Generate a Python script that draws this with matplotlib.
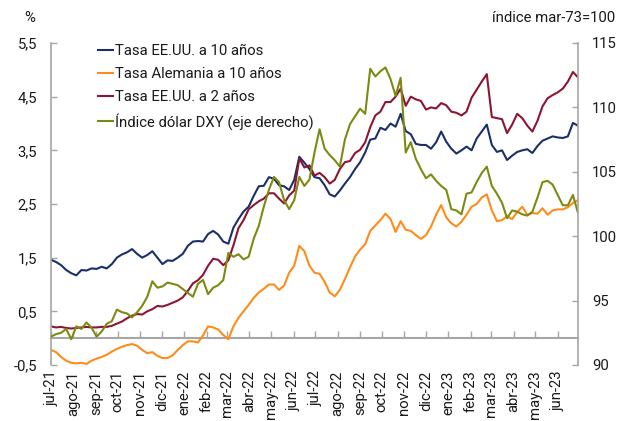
import matplotlib
matplotlib.use('Agg')
import matplotlib.pyplot as plt
import matplotlib.dates as mdates
import pandas as pd

plt.rcParams['font.family'] = ['Roboto', 'DejaVu Sans']

# ---------------- data (weekly readings) ----------------
dates = pd.date_range('2021-07-01', periods=105, freq='7D')

us10 = [1.46, 1.42, 1.36, 1.27, 1.21, 1.17, 1.27, 1.26, 1.30, 1.29,
        1.33, 1.30, 1.38, 1.50, 1.56, 1.60, 1.66, 1.57, 1.50, 1.55,
        1.62, 1.50, 1.38, 1.45, 1.44, 1.50, 1.57, 1.72, 1.80, 1.81,
        1.80, 1.94, 2.00, 1.93, 1.80, 1.76, 2.06, 2.22, 2.36, 2.45,
        2.65, 2.83, 2.84, 3.00, 2.97, 2.85, 2.83, 2.76, 2.95, 3.38,
        3.27, 3.15, 3.00, 2.98, 2.85, 2.68, 2.64, 2.75, 2.88, 3.00,
        3.15, 3.28, 3.46, 3.70, 3.72, 3.92, 3.88, 4.00, 3.94, 4.18,
        3.86, 3.80, 3.62, 3.60, 3.60, 3.53, 3.65, 3.85, 3.66, 3.53,
        3.44, 3.50, 3.57, 3.50, 3.72, 3.85, 3.98, 3.60, 3.47, 3.50,
        3.32, 3.40, 3.47, 3.50, 3.52, 3.45, 3.58, 3.68, 3.72, 3.76,
        3.74, 3.73, 3.76, 4.01, 3.96]

de10 = [-0.22, -0.26, -0.35, -0.42, -0.46, -0.47, -0.46, -0.48, -0.42, -0.38,
        -0.35, -0.31, -0.25, -0.20, -0.16, -0.13, -0.11, -0.14, -0.22, -0.28,
        -0.26, -0.33, -0.37, -0.37, -0.32, -0.22, -0.13, -0.06, -0.06, -0.08,
        0.05, 0.22, 0.20, 0.16, 0.06, -0.02, 0.22, 0.38, 0.50, 0.62,
        0.75, 0.85, 0.92, 1.00, 1.00, 0.90, 0.98, 1.22, 1.35, 1.72,
        1.62, 1.35, 1.22, 1.20, 1.05, 0.85, 0.78, 0.90, 1.10, 1.32,
        1.52, 1.65, 1.75, 2.00, 2.10, 2.20, 2.32, 2.22, 1.98, 2.18,
        2.02, 2.00, 1.92, 1.85, 1.92, 2.08, 2.30, 2.48, 2.25, 2.14,
        2.08, 2.17, 2.30, 2.45, 2.50, 2.62, 2.68, 2.38, 2.18, 2.20,
        2.27, 2.22, 2.35, 2.45, 2.30, 2.33, 2.32, 2.42, 2.30, 2.38,
        2.40, 2.40, 2.44, 2.52, 2.57]

us2 = [0.22, 0.20, 0.21, 0.19, 0.18, 0.19, 0.20, 0.21, 0.20, 0.20,
       0.21, 0.21, 0.23, 0.27, 0.31, 0.37, 0.42, 0.45, 0.44, 0.50,
       0.54, 0.60, 0.59, 0.62, 0.66, 0.70, 0.76, 0.88, 1.02, 1.08,
       1.18, 1.35, 1.48, 1.46, 1.36, 1.45, 1.73, 2.05, 2.20, 2.40,
       2.48, 2.55, 2.60, 2.70, 2.70, 2.60, 2.51, 2.66, 2.75, 3.35,
       3.18, 3.22, 3.03, 3.08, 3.00, 2.88, 2.95, 3.15, 3.28, 3.30,
       3.45, 3.51, 3.65, 3.93, 4.15, 4.22, 4.40, 4.40, 4.50, 4.65,
       4.33, 4.50, 4.45, 4.42, 4.26, 4.30, 4.28, 4.38, 4.34, 4.22,
       4.20, 4.15, 4.22, 4.48, 4.63, 4.78, 4.92, 4.12, 4.10, 4.08,
       3.82, 3.98, 4.18, 4.10, 3.96, 3.85, 4.05, 4.32, 4.47, 4.53,
       4.58, 4.65, 4.78, 4.96, 4.86]

dxy = [92.2, 92.4, 92.5, 92.8, 92.0, 93.0, 92.8, 93.3, 92.9, 92.2,
       92.6, 93.2, 93.4, 94.3, 94.1, 94.0, 93.7, 94.1, 94.6, 95.3,
       96.5, 96.0, 96.1, 96.4, 96.3, 96.2, 95.9, 95.6, 95.3, 96.3,
       96.6, 95.5, 96.0, 96.2, 96.6, 98.7, 98.4, 98.6, 98.2, 98.4,
       99.8, 100.8, 102.3, 103.6, 104.6, 104.2, 102.8, 102.1, 102.8, 104.6,
       103.9, 104.4, 106.5, 108.3, 106.8, 106.3, 105.9, 105.4, 107.5, 108.7,
       109.3, 109.9, 109.5, 113.0, 112.4, 112.8, 113.1, 112.2, 110.9, 112.3,
       106.5, 107.3, 106.0, 105.2, 104.5, 104.8, 104.3, 103.9, 103.6, 102.1,
       102.0, 101.7, 103.3, 103.4, 104.2, 104.9, 105.4, 103.9, 103.3, 102.6,
       101.4, 102.0, 101.9, 101.7, 101.6, 101.9, 103.0, 104.2, 104.3, 104.0,
       103.2, 102.4, 102.4, 103.2, 101.8]

series_names = ['Tasa EE.UU. a 10 años', 'Tasa Alemania a 10 años',
                'Tasa EE.UU. a 2 años', 'Índice dólar DXY (eje derecho)']
colors = ['#1b2f6b', '#ff8c1a', '#8e1532', '#7d8a12']

tick_dates = pd.date_range('2021-07-01', '2023-06-01', freq='MS')
tick_labels = ['jul-21', 'ago-21', 'sep-21', 'oct-21', 'nov-21', 'dic-21',
               'ene-22', 'feb-22', 'mar-22', 'abr-22', 'may-22', 'jun-22',
               'jul-22', 'ago-22', 'sep-22', 'oct-22', 'nov-22', 'dic-22',
               'ene-23', 'feb-23', 'mar-23', 'abr-23', 'may-23', 'jun-23']
left_ticks = [-0.5, 0.5, 1.5, 2.5, 3.5, 4.5, 5.5]
left_labels = ['-0,5', '0,5', '1,5', '2,5', '3,5', '4,5', '5,5']
right_ticks = [90, 95, 100, 105, 110, 115]

# ---------------- figure ----------------
gray = '#a6a6a6'
txt = '#1a1a1a'
fs = 10.7

fig = plt.figure(figsize=(6.3, 4.21), dpi=100)
ax = fig.add_axes([51 / 630, 1 - 365 / 421, 527 / 630, 322 / 421])
ax2 = ax.twinx()

lw = 1.5
l1, = ax.plot(dates, us10, color=colors[0], lw=lw, label=series_names[0])
l2, = ax.plot(dates, de10, color=colors[1], lw=lw, label=series_names[1])
l3, = ax.plot(dates, us2, color=colors[2], lw=lw, label=series_names[2])
l4, = ax2.plot(dates, dxy, color=colors[3], lw=lw, label=series_names[3])

ax.set_xlim(pd.Timestamp('2021-07-01'), pd.Timestamp('2023-06-29'))
ax.set_ylim(-0.5, 5.5)
ax2.set_ylim(90, 115)

ax.set_yticks(left_ticks, left_labels)
ax2.set_yticks(right_ticks)

ax.set_xticks(tick_dates, tick_labels, rotation=90)
ax.tick_params(axis='x', length=0, pad=4, labelsize=fs, labelcolor=txt)
ax.tick_params(axis='y', direction='in', length=4, color=gray, width=1,
               pad=10, labelsize=fs, labelcolor=txt)
ax2.tick_params(axis='y', direction='in', length=4, color=gray, width=1,
                pad=10, labelsize=fs, labelcolor=txt)

for a in (ax, ax2):
    a.spines['top'].set_visible(False)
    a.spines['bottom'].set_visible(False)
ax.spines['right'].set_visible(False)
ax2.spines['left'].set_visible(False)
ax.spines['left'].set_color(gray)
ax2.spines['right'].set_color(gray)
ax.spines['left'].set_linewidth(1.2)
ax2.spines['right'].set_linewidth(1.2)

# zero line with month ticks
sec = ax.secondary_xaxis(0, transform=ax.transData)
sec.set_xticks(mdates.date2num(tick_dates))
sec.tick_params(axis='x', direction='in', length=5, color=gray, width=1,
                labelbottom=False)
sec.spines['bottom'].set_color(gray)
sec.spines['bottom'].set_linewidth(1.5)

leg = ax2.legend(handles=[l1, l2, l3, l4], loc='upper left',
                 bbox_to_anchor=(0.089, 0.996), frameon=False, borderpad=0,
                 handlelength=1.0, handletextpad=0.15, labelspacing=0.6,
                 fontsize=fs, borderaxespad=0)
for t in leg.get_texts():
    t.set_color(txt)

fig.text(30 / 630, 1 - 18 / 421, '%', ha='center', va='center',
         fontsize=fs, color=txt)
fig.text(615 / 630, 1 - 18 / 421, 'índice mar-73=100', ha='right',
         va='center', fontsize=fs, color=txt)

fig.savefig('out.png', dpi=100)
